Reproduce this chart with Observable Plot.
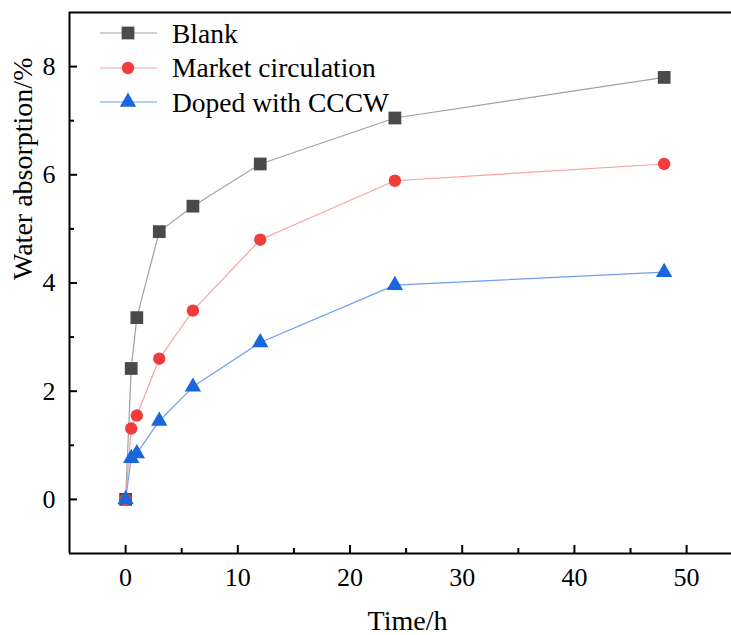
<!DOCTYPE html>
<html><head><meta charset="utf-8">
<script src="https://cdn.jsdelivr.net/npm/d3@7"></script>
<script src="https://cdn.jsdelivr.net/npm/@observablehq/plot@0.6"></script>
<style>
body{margin:0;background:#fff;}
#wrap{position:relative;width:731px;height:635px;}
#legend{position:absolute;left:100px;top:16px;}
.row{display:flex;align-items:center;height:34.5px;font-family:"Liberation Serif","Times New Roman",serif !important;font-size:27.5px;color:#000;line-height:1;}
.row svg{margin-right:15px;display:block;}
</style></head>
<body><div id="wrap"><div id="legend"></div></div>
<script>
const times = [0, 0.5, 1, 3, 6, 12, 24, 48];
const seriesNames = ["Blank", "Market circulation", "Doped with CCCW"];
const blank = [0, 2.42, 3.36, 4.95, 5.42, 6.2, 7.05, 7.8];
const market = [0, 1.31, 1.55, 2.6, 3.49, 4.8, 5.89, 6.2];
const doped = [0, 0.76, 0.85, 1.45, 2.08, 2.9, 3.96, 4.2];
const markerColors = ["#4a4a4a", "#f23c3c", "#1a66dd"];
const lineColors = ["#a0a0a0", "#f5a3a3", "#6f9ff0"];
const symbols = ["square", "circle", "triangle"];
const radii = [7.2, 6.2, 6.1];
const xTicks = [0, 10, 20, 30, 40, 50];
const xMinor = [5, 15, 25, 35, 45];
const yTicks = [0, 2, 4, 6, 8];
const yMinor = [1, 3, 5, 7];
const xDomain = [-5, 54];
const yDomain = [-1, 9];
const xTitle = "Time/h";
const yTitle = "Water absorption/%";

const values = [blank, market, doped];
const rows = [];
values.forEach((vals, i) => vals.forEach((v, j) => rows.push({s: seriesNames[i], i, t: times[j], v})));

const font = "Liberation Serif, Times New Roman, serif";
const chart = Plot.plot({
  width: 731, height: 635,
  marginLeft: 69, marginRight: 0, marginTop: 12, marginBottom: 82,
  x: {domain: xDomain},
  y: {domain: yDomain},
  style: {fontFamily: font, fontSize: "26px", background: "white", color: "#000"},
  marks: [
    Plot.axisX({ticks: xTicks, tickSize: -8, tickPadding: 22, strokeWidth: 2, fontSize: 26, label: null}),
    Plot.axisX({ticks: xMinor, tickSize: -5, tickFormat: () => "", strokeWidth: 2, label: null}),
    Plot.axisY({ticks: yTicks, tickSize: -8, tickPadding: 22, strokeWidth: 2, fontSize: 26, label: null}),
    Plot.axisY({ticks: yMinor, tickSize: -5, tickFormat: () => "", strokeWidth: 2, label: null}),
    Plot.ruleY([yDomain[0], yDomain[1]], {strokeWidth: 2, stroke: "#000"}),
    Plot.ruleX([xDomain[0]], {strokeWidth: 2, stroke: "#000"}),
    Plot.text([xTitle], {frameAnchor: "bottom", text: d => d, dy: 68, dx: 7, lineAnchor: "middle", fontSize: 28, fill: "#000"}),
    Plot.text([yTitle], {frameAnchor: "left", text: d => d, rotate: -90, dx: -46, dy: -3, lineAnchor: "middle", fontSize: 28, fill: "#000"}),
    Plot.line(rows, {x: "t", y: "v", z: "s", stroke: d => lineColors[d.i], strokeWidth: 1.2}),
    ...values.map((vals, i) => Plot.dot(rows.filter(d => d.i === i), {x: "t", y: "v", symbol: symbols[i], fill: markerColors[i], r: radii[i], stroke: "none"}))
  ]
});
document.getElementById("wrap").appendChild(chart);

const legend = document.getElementById("legend");
seriesNames.forEach((name, i) => {
  const row = document.createElement("div");
  row.className = "row";
  const sym = d3.create("svg").attr("width", 57).attr("height", 20);
  sym.append("line").attr("x1", 0).attr("x2", 57).attr("y1", 10).attr("y2", 10).attr("stroke", lineColors[i]).attr("stroke-width", 1.2);
  const symType = [d3.symbolSquare, d3.symbolCircle, d3.symbolTriangle][i];
  sym.append("path").attr("transform", "translate(28,10)").attr("d", d3.symbol(symType, Math.PI * radii[i] * radii[i])()).attr("fill", markerColors[i]);
  row.appendChild(sym.node());
  const span = document.createElement("span");
  span.textContent = name;
  row.appendChild(span);
  legend.appendChild(row);
});
</script>
</body></html>
